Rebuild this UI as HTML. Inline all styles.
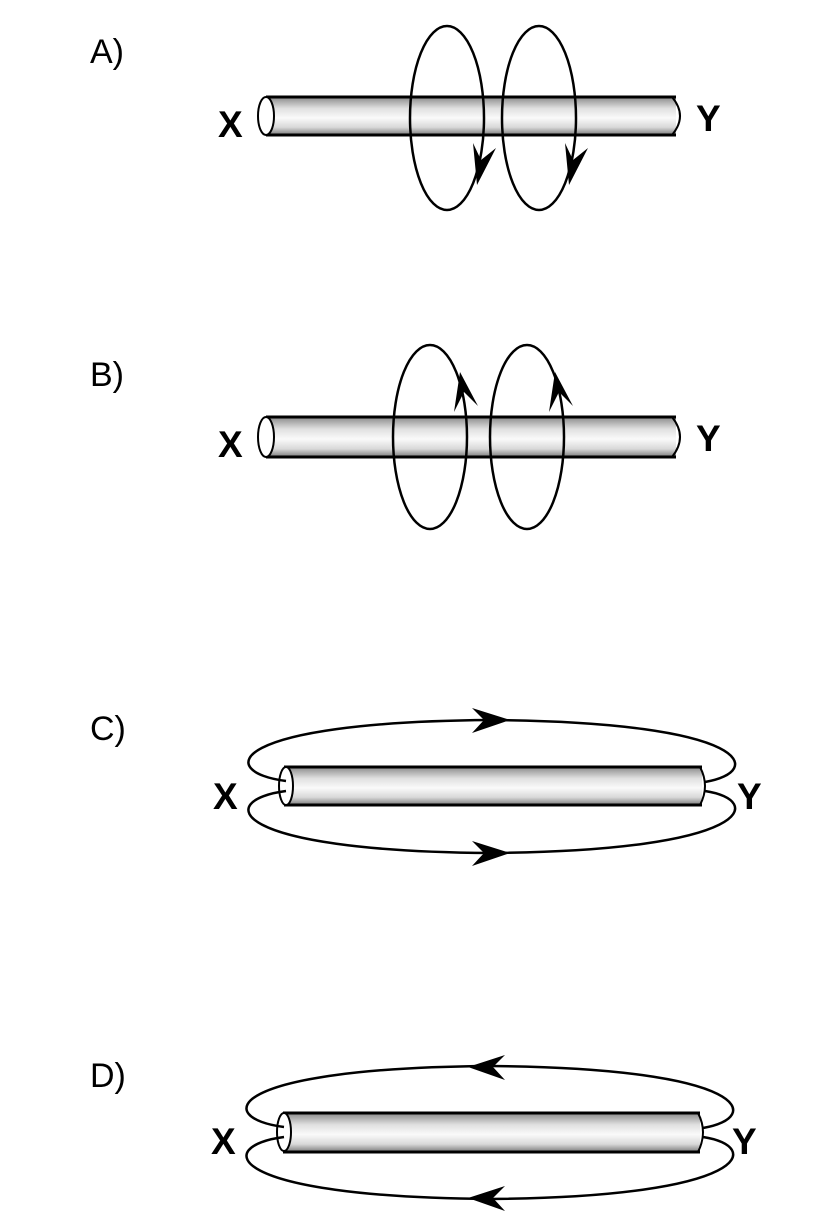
<!DOCTYPE html>
<html><head><style>
html,body{margin:0;padding:0;background:#fff;}
svg{display:block;}
.lab{font-family:"Liberation Sans",sans-serif;font-size:34px;}
.xy{font-family:"Liberation Sans",sans-serif;font-size:37px;font-weight:bold;}
</style></head><body>
<svg width="828" height="1226" viewBox="0 0 828 1226" xmlns="http://www.w3.org/2000/svg">
<defs>
<linearGradient id="g" x1="0" y1="0" x2="0" y2="1">
<stop offset="0" stop-color="#8a8a8a"/>
<stop offset="0.3" stop-color="#e0e0e0"/>
<stop offset="0.55" stop-color="#fafafa"/>
<stop offset="0.8" stop-color="#d8d8d8"/>
<stop offset="1" stop-color="#7a7a7a"/>
</linearGradient>
</defs>
<g fill="none" stroke="#000" stroke-width="2.5">
<!-- A -->
<rect x="266" y="97" width="410" height="38" fill="url(#g)" stroke="none"/>
<line x1="266" y1="97" x2="676" y2="97" stroke-width="3"/>
<line x1="266" y1="135" x2="676" y2="135" stroke-width="3"/>
<path d="M672 97 Q688 116 672 135" stroke-width="2"/>
<ellipse cx="266" cy="116" rx="8" ry="19" fill="#fff" stroke-width="2"/>
<ellipse cx="447" cy="118" rx="37" ry="92"/>
<ellipse cx="539" cy="118" rx="37" ry="92"/>
<!-- B -->
<rect x="266" y="417" width="410" height="40" fill="url(#g)" stroke="none"/>
<line x1="266" y1="417" x2="676" y2="417" stroke-width="3"/>
<line x1="266" y1="457" x2="676" y2="457" stroke-width="3"/>
<path d="M672 417 Q688 437 672 457" stroke-width="2"/>
<ellipse cx="266" cy="437" rx="8" ry="20" fill="#fff" stroke-width="2"/>
<ellipse cx="430" cy="437" rx="37" ry="92"/>
<ellipse cx="527" cy="437" rx="37" ry="92"/>
<!-- C -->
<rect x="284" y="767" width="418" height="38" fill="url(#g)" stroke="none"/>
<line x1="284" y1="767" x2="702" y2="767" stroke-width="3"/>
<line x1="284" y1="805" x2="702" y2="805" stroke-width="3"/>
<path d="M700 767 Q710 786 700 805" stroke-width="2"/>
<ellipse cx="286" cy="786" rx="7" ry="19" fill="#fff" stroke-width="2"/>
<path d="M286 781 C215 772 225 722 490 720 C755 722 765 772 705 782"/>
<path d="M286 791 C215 800 225 851 490 853 C755 851 765 800 705 791"/>
<!-- D -->
<rect x="283" y="1113" width="417" height="39" fill="url(#g)" stroke="none"/>
<line x1="283" y1="1113" x2="700" y2="1113" stroke-width="3"/>
<line x1="283" y1="1152" x2="700" y2="1152" stroke-width="3"/>
<path d="M698 1113 Q708 1132 698 1152" stroke-width="2"/>
<ellipse cx="284" cy="1132" rx="7" ry="19" fill="#fff" stroke-width="2"/>
<path d="M284 1127 C213 1118 223 1068 490 1066 C753 1068 763 1118 703 1128"/>
<path d="M284 1137 C213 1146 223 1197 490 1199 C753 1197 763 1146 703 1137"/>
</g>
<g fill="#000">
<!-- A arrows (down) -->
<path d="M477 185 L473 143 L481 160 L496 148 Z"/>
<path d="M569 185 L565 143 L573 160 L588 148 Z"/>
<!-- B arrows (up) -->
<path d="M460 372 L478 406 L464 392 L454 412 Z"/>
<path d="M555 372 L573 406 L559 392 L549 412 Z"/>
<!-- C arrows right -->
<path d="M510 720 L472 708 L484 720 L472 733 Z"/>
<path d="M510 853 L472 841 L484 853 L472 866 Z"/>
<!-- D arrows left -->
<path d="M468 1067 L505 1055 L493 1067 L505 1080 Z"/>
<path d="M468 1198 L505 1186 L493 1198 L505 1211 Z"/>
</g>
<text class="lab" x="90" y="63">A)</text>
<text class="lab" x="90" y="386">B)</text>
<text class="lab" x="90" y="740">C)</text>
<text class="lab" x="90" y="1087">D)</text>
<text class="xy" x="218" y="137">X</text>
<text class="xy" x="696" y="131">Y</text>
<text class="xy" x="218" y="457">X</text>
<text class="xy" x="696" y="451">Y</text>
<text class="xy" x="213" y="809">X</text>
<text class="xy" x="737" y="809">Y</text>
<text class="xy" x="211" y="1154">X</text>
<text class="xy" x="732" y="1154">Y</text>
</svg>
</body></html>
